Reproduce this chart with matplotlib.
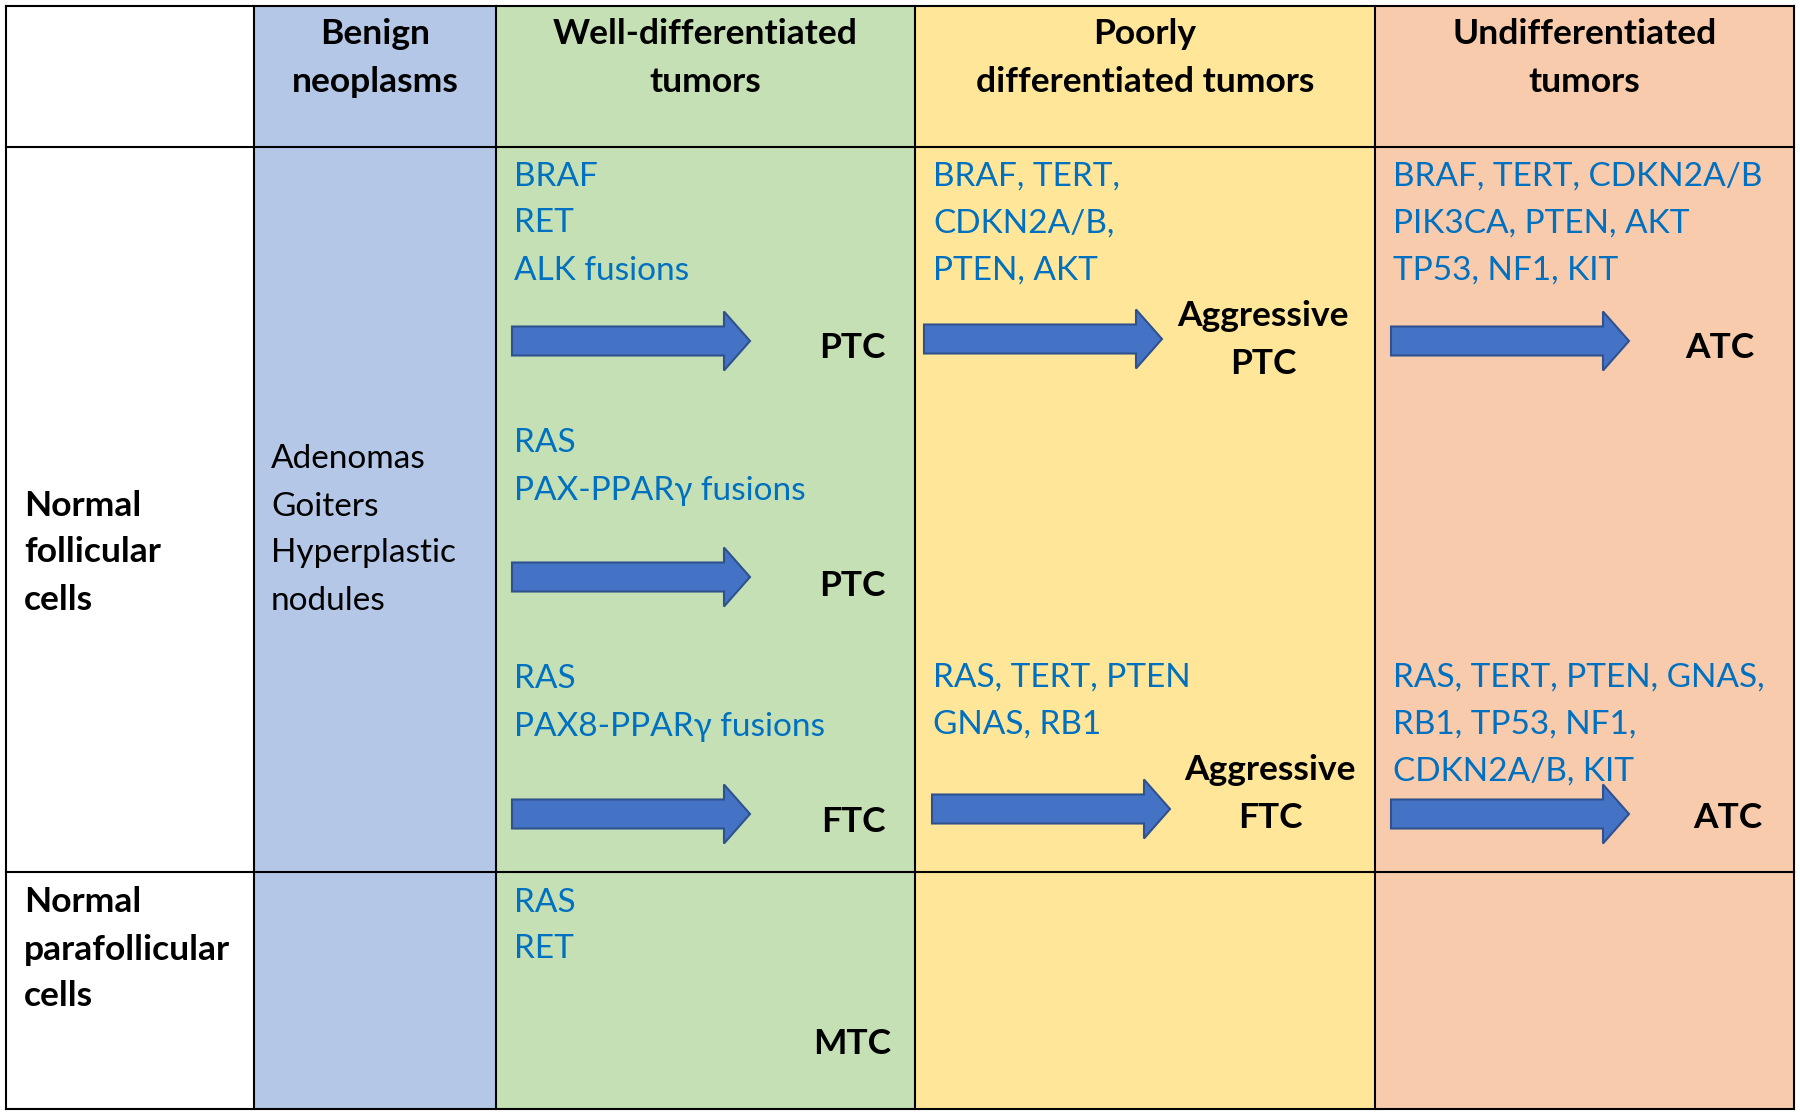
import matplotlib.pyplot as plt
from matplotlib.patches import Rectangle, FancyArrow

plt.rcParams['font.family'] = ['Lato', 'DejaVu Sans']

# table grid (pixel layout of the figure)
col_edges = [6, 254, 496, 915, 1375, 1794]
row_edges = [6, 147, 872, 1109]
col_colors = ['#FFFFFF', '#B4C7E7', '#C5E0B4', '#FFE699', '#F8CBAD']

# header row
headers = ['', 'Benign\nneoplasms', 'Well-differentiated\ntumors',
           'Poorly\ndifferentiated tumors', 'Undifferentiated\ntumors']

# row labels (first column)
row_labels = [('Normal\nfollicular\ncells', 502), ('Normal\nparafollicular\ncells', 899)]

# benign column text
benign_text = ['Adenomas', 'Goiters', 'Hyperplastic', 'nodules']

# mutations (blue text), per column: (top line y, lines)
well_mut = [(173, ['BRAF', 'RET', 'ALK fusions']),
            (440, ['RAS', 'PAX-PPAR\u03b3 fusions']),
            (676, ['RAS', 'PAX8-PPAR\u03b3 fusions']),
            (899, ['RAS', 'RET'])]
poor_mut = [(173, ['BRAF, TERT,', 'CDKN2A/B,', 'PTEN, AKT']),
            (674, ['RAS, TERT, PTEN', 'GNAS, RB1'])]
undiff_mut = [(173, ['BRAF, TERT, CDKN2A/B', 'PIK3CA, PTEN, AKT', 'TP53, NF1, KIT']),
              (674, ['RAS, TERT, PTEN, GNAS,', 'RB1, TP53, NF1,', 'CDKN2A/B, KIT'])]

# outcomes (bold black), per column: (label, x, y)
well_out = [('PTC', 886, 345), ('PTC', 886, 582), ('FTC', 886, 818), ('MTC', 891, 1040)]
poor_out = [('Aggressive\nPTC', 1263, 313), ('Aggressive\nFTC', 1270, 767)]
undiff_out = [('ATC', 1720, 344), ('ATC', 1728, 814)]

# arrows: (x start, y center)
arrows = [(512, 341), (512, 577), (512, 814),
          (924, 339), (932, 809),
          (1391, 341), (1391, 814)]

BLUE = '#0070C0'
FS = 24
FSB = 25.5
LH = 47
DY = 3.5

fig = plt.figure(figsize=(18, 11.16), dpi=100)
ax = fig.add_axes([0, 0, 1, 1])
ax.set_xlim(0, 1800)
ax.set_ylim(1116, 0)
ax.axis('off')

for i, c in enumerate(col_colors):
    ax.add_patch(Rectangle((col_edges[i], row_edges[0]), col_edges[i + 1] - col_edges[i],
                           row_edges[-1] - row_edges[0], facecolor=c, edgecolor='none', zorder=0))
for x in col_edges:
    ax.plot([x, x], [row_edges[0], row_edges[-1]], color='black', lw=1.5, zorder=3)
for y in row_edges:
    ax.plot([col_edges[0], col_edges[-1]], [y, y], color='black', lw=1.5, zorder=3)


def lines_at(x, y0, text, ha='left', bold=False, color='black'):
    for k, line in enumerate(text.split('\n')):
        ax.text(x, y0 + k * LH + DY, line, ha=ha, va='center', color=color,
                fontsize=FSB if bold else FS, fontweight='bold' if bold else 'normal', zorder=4)


# headers
for i, h in enumerate(headers):
    if h:
        cx = (col_edges[i] + col_edges[i + 1]) / 2
        lines_at(cx, 31, h, ha='center', bold=True)

for lab, y in row_labels:
    lines_at(24, y, lab, bold=True)

lines_at(271, 456, '\n'.join(benign_text))

for y0, lines in well_mut:
    lines_at(514, y0, '\n'.join(lines), color=BLUE)
for y0, lines in poor_mut:
    lines_at(933, y0, '\n'.join(lines), color=BLUE)
for y0, lines in undiff_mut:
    lines_at(1393, y0, '\n'.join(lines), color=BLUE)

for lab, x, y in well_out:
    lines_at(x, y, lab, ha='right', bold=True)
for lab, x, y in poor_out:
    lines_at(x, y, lab, ha='center', bold=True)
for lab, x, y in undiff_out:
    lines_at(x, y, lab, ha='center', bold=True)

for x, y in arrows:
    ax.add_patch(FancyArrow(x, y, 238, 0, width=29, head_width=59, head_length=26,
                            length_includes_head=True, facecolor='#4472C4',
                            edgecolor='#2F528F', lw=1.5, zorder=2))

fig.savefig('out.png', dpi=100)
